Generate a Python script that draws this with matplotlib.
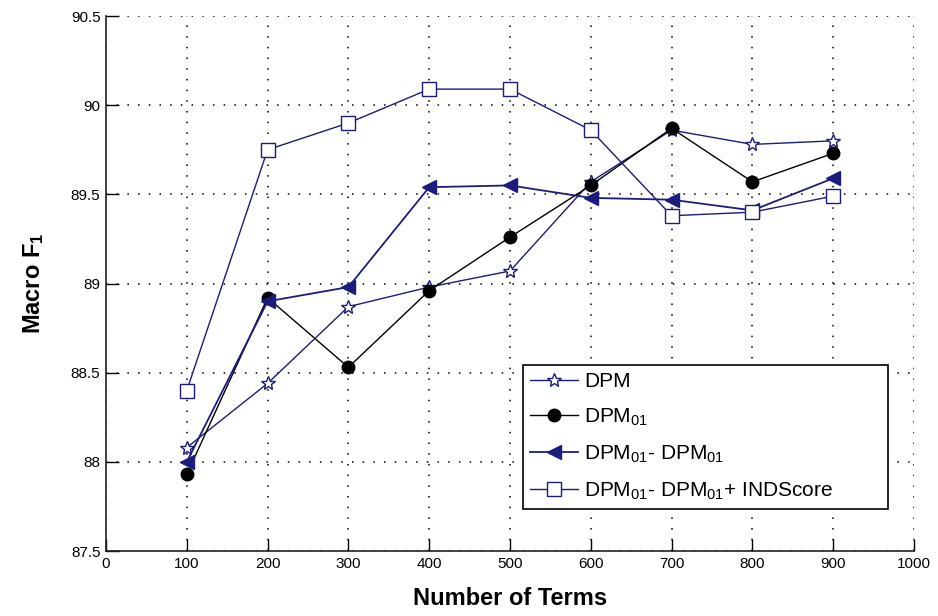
import matplotlib
matplotlib.use("Agg")
import matplotlib.pyplot as plt

plt.rcParams['font.family'] = ['Liberation Sans', 'DejaVu Sans']
plt.rcParams['mathtext.fontset'] = 'custom'
plt.rcParams['mathtext.rm'] = 'Liberation Sans'
plt.rcParams['mathtext.it'] = 'Liberation Sans'
plt.rcParams['mathtext.bf'] = 'Liberation Sans:bold'
plt.rcParams['mathtext.default'] = 'regular'

terms = [100, 200, 300, 400, 500, 600, 700, 800, 900]
dpm = [88.08, 88.44, 88.87, 88.98, 89.07, 89.57, 89.86, 89.78, 89.80]
dpm01 = [87.93, 88.92, 88.53, 88.96, 89.26, 89.55, 89.87, 89.57, 89.73]
dpm01_dpm01 = [88.00, 88.90, 88.98, 89.54, 89.55, 89.48, 89.47, 89.41, 89.59]
dpm01_dpm01_ind = [88.40, 89.75, 89.90, 90.09, 90.09, 89.86, 89.38, 89.40, 89.49]

labels = ['DPM', 'DPM$_{01}$', 'DPM$_{01}$- DPM$_{01}$',
          'DPM$_{01}$- DPM$_{01}$+ INDScore']
xticks = [0, 100, 200, 300, 400, 500, 600, 700, 800, 900, 1000]
yticks = [87.5, 88, 88.5, 89, 89.5, 90, 90.5]

navy = '#1c1c7c'

fig = plt.figure(figsize=(9.38, 6.16), dpi=100)
ax = fig.add_axes([106 / 938, (616 - 551) / 616, 808 / 938, 535 / 616])

ax.plot(terms, dpm, color=navy, lw=1, marker='*', ms=10, mfc='white',
        mec=navy, mew=1, label=labels[0])
ax.plot(terms, dpm01, color='black', lw=1, marker='o', ms=9, mfc='black',
        mec='black', label=labels[1])
ax.plot(terms, dpm01_dpm01, color=navy, lw=1.3, marker='<', ms=10, mfc=navy,
        mec=navy, label=labels[2])
ax.plot(terms, dpm01_dpm01_ind, color=navy, lw=1, marker='s', ms=10,
        mfc='white', mec=navy, mew=1, label=labels[3])

ax.set_xlim(0, 1000)
ax.set_ylim(87.5, 90.5)
ax.set_xticks(xticks)
ax.set_yticks(yticks)
ax.set_yticklabels(['87.5', '88', '88.5', '89', '89.5', '90', '90.5'])
ax.tick_params(direction='in', length=9, width=1, labelsize=11, pad=4)
ax.grid(True, color='black', linestyle=(0, (1, 6)), linewidth=1.1)
for side in ('top', 'right'):
    ax.spines[side].set_visible(False)
for side in ('left', 'bottom'):
    ax.spines[side].set_linewidth(1.2)
    ax.spines[side].set_color('#222222')

ax.set_xlabel('Number of Terms', fontsize=17, fontweight='bold', labelpad=12)
ax.set_ylabel('Macro F$_1$', fontsize=17, fontweight='bold', labelpad=18)

leg = ax.legend(loc='lower left', bbox_to_anchor=(0.516, 0.0785, 0.452, 0.2825),
                mode='expand', fontsize=15, frameon=True, fancybox=False,
                edgecolor='black', framealpha=1, handlelength=2.3,
                borderaxespad=0, labelspacing=0.75, borderpad=0.35,
                handletextpad=0.3)
leg.get_frame().set_linewidth(1.2)

fig.savefig('out.png', dpi=100)
